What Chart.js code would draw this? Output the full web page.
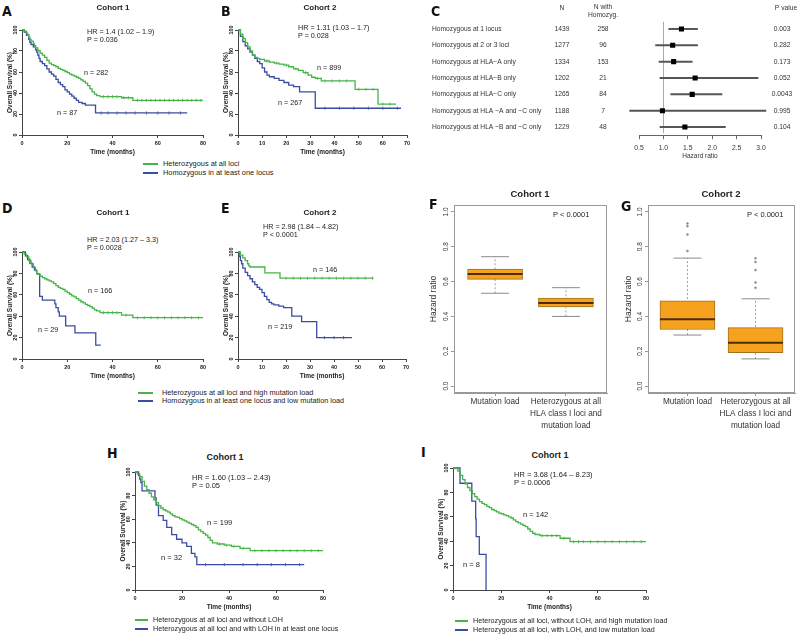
<!DOCTYPE html>
<html>
<head>
<meta charset="utf-8">
<script src="https://cdn.jsdelivr.net/npm/chart.js@4.4.1/dist/chart.umd.min.js"></script>
<style>
  body { margin: 0; background: #fff; }
  #fig { position: relative; width: 800px; height: 638px; overflow: hidden; background: #fff;
         font-family: 'Liberation Sans', Arial, sans-serif; color: #222; }
  #fig canvas { position: absolute; }
  .t { position: absolute; white-space: nowrap; line-height: 1; }
  .lt { font-family: 'Liberation Sans Narrow', 'DejaVu Sans Condensed', sans-serif; font-weight: bold; color: #111; }
  .lg { position: absolute; height: 2px; }
</style>
</head>
<body>
<div id="fig"></div>
<script>
// ---- Kaplan-Meier curves: time (months) / survival (%) / censor times ----
// A: cohort 1, heterozygous vs homozygous
const aHetT = [0,1,2,2.5,3,3.5,4,5,5.5,6,7,8,9,10,11,12,13,14,15,16,17,18,19,20,21,22,23,24,25,26,27,28,29,30,31,32,33,34.5,44,49,80];
const aHetS = [100,99,97,95,93,91,89.5,87,85,83,80.5,78,76,74,71,68.5,67,66,65,63.5,62.5,61.5,60.5,59.5,58,57,56,55,54,52.5,51,49.5,47,44,41,39,37.5,36.5,35.5,33,33];
const aHetCens = [36,38,40,42,45,47,51,53,55,57,59,61,63,65,67,69,71,73,75,77,79];
const aHomT = [0,1,2,3,3.5,4,5,6,6.5,7,7.5,8,9,10,11,12,13,14,15,16,17,18,19,20,21,22,23,24,25,26.5,28,32.5,73];
const aHomS = [100,98,95,91,88,86,84,81,79,76,73,70,68,66,63,60,58,56,53,50,48,46,43,41,39,37,35,33,31,30,28.5,21,21];
const aHomCens = [35,38,42,46,50,55,60,65,70];

// B: cohort 2
const bHetT = [0,1,2,3,4,5,6,7,8,9,11,13,15,17,19,21,23,25,27,29,30.5,32,34.5,48.5,58,65.5];
const bHetS = [100,96,92,88,84,80,76,74,73,72,70.5,69.5,68.5,67.5,66.5,65,63,61.5,59.5,57,55,54,51.5,43.5,29.5,29.5];
const bHetCens = [12,16,20,24,28,33,36,39,42,45,50,53,56,60,63];
const bHomT = [0,1,2,3,4,5,6,7,8,9,10,11,12,13,15,17,19,21,23,25.5,32,67.5];
const bHomS = [100,94,89,85,82,79,76,73,70,68,64,60,57,55.5,54,52,50,47.5,46,41,25.5,25.5];
const bHomCens = [36,42,48,54,60,66];

// D: cohort 1, with mutation load
const dHetT = [0,1,2,3,4,5,6,6.5,7,8,9,10,11,12,13,14,15,16,17,18,19,20,21,22,23,24,25,26,27,28,29,30,31,32,33,34.5,44,49,80];
const dHetS = [100,98,95.5,92,89,85.5,82.5,80,79,77.5,76,75,74,73,72,70.5,68.5,67,66,65,63.5,62,60.5,59,58,56.5,55,53.5,52.5,51,50,49,47.5,46,45,43.3,41,38.6,38.6];
const dHetCens = [36,38,40,42,46,51,54,57,60,63,66,69,72,75,78];
const dHomT = [0,1.5,2.5,3.5,4.5,5.5,6.5,7.8,9,14.5,15,16,16.5,19.3,23.4,32.6,34.8];
const dHomS = [100,96.5,93,89.5,86,83,79.5,58.5,55,51.5,48,44,40,31,24.5,13,13];

// E: cohort 2, with mutation load
const eHetT = [0,1,2,3,4,4.5,5,11.2,17.5,56.5];
const eHetS = [100,97,94.5,92,89,87,86,80.5,75.5,75.5];
const eHetCens = [20,23,26,29,32,35,38,41,44,47,50,53,56];
const eHomT = [0,0.5,1,1.5,2,3,4,5,6,7,8,9,10,11,12,13,14,15,17,19,22.4,26.5,32.8,47.5];
const eHomS = [100,96,92,89,85,81,78,75,72,69.5,67,65,62,58.5,55.5,53,51.5,50.5,49.5,48,40,35,20,20];
const eHomCens = [36,40,44];

// H: cohort 1, LOH
const hHetT = [0,1,2,3,4,5,6,7,8,9,10,11,12,13,14,15,16,17,18,19,20,21,22,23,24,25,26,27,28,29,30,31,32,33,35,38,41,44.7,49,80];
const hHetS = [100,98.5,96,92,88,85,82,79,76.5,74,71.5,69.5,68,67,66,64.5,63,62,61.5,60.5,59.5,58.5,57.5,56.5,55.5,54.5,53,51,49.5,48,46.5,44.5,42,40,39,38,37,35.3,33.3,33.3];
const hHetCens = [36,39,42,46,51,54,57,60,63,66,69,72,75,78];
const hLohT = [0,1.5,2,2.5,3,8.5,9,10,12,13.5,15.6,17.7,20,22,24,25.5,26.3,72];
const hLohS = [100,97,94,91,84,78,72,63,59,53,47,43,40,37,31,28,21.5,21.5];
const hLohCens = [30,38,46,52,58,64,70];

// I: cohort 1, LOH + mutation load
const iHighT = [0,1,2,3,4,5,6,7,8,9,10,11,12,13,14,15,16,17,18,19,20,21,22,23,24,25,26,27,28,29,30,31,32,33,34,36,44.4,48.5,80];
const iHighS = [100,99.5,97.5,94,90.5,87,84,81.5,79,76.5,74.5,72.5,71,70,68.5,67.5,66,65,64,63,62.5,61.5,61,60,59,57.5,56,55,54,53,52,50,48,46.5,45.5,44.5,42.4,39.6,39.6];
const iHighCens = [37,39,41,43,46,50,52,54,57,60,63,66,69,72,75,78];
const iLowT = [0,2.9,7.8,9.4,9.6,10.9,13.7];
const iLowS = [100,87.5,72.9,58.3,43.7,29.2,0];

// ---- C: forest plot ----
const forestRows = ['Homozygous at 1 locus','Homozygous at 2 or 3 loci','Homozygous at HLA\u2212A only','Homozygous at HLA\u2212B only',
  'Homozygous at HLA\u2212C only','Homozygous at HLA \u2212A and \u2212C only','Homozygous at HLA \u2212B and \u2212C only'];
const forestN = [1439,1277,1334,1202,1265,1188,1229];
const forestNHom = [258,96,153,21,84,7,48];
const forestP = ['0.003','0.282','0.173','0.052','0.0043','0.995','0.104'];
const forestHR = [1.37,1.19,1.21,1.65,1.59,0.98,1.44];
const forestLo = [1.11,0.84,0.91,0.93,1.15,0.31,0.93];
const forestHi = [1.70,1.70,1.59,2.94,2.20,3.10,2.27];

// ---- F, G: box plots (whisker low, q1, median, q3, whisker high) ----
const boxGroups = [['Mutation load'], ['Heterozygous at all','HLA class I loci and','mutation load']];
const fStats = [[0.533,0.613,0.644,0.672,0.743],[0.40,0.455,0.477,0.505,0.565]];
const gStats = [[0.293,0.325,0.383,0.49,0.735],[0.156,0.192,0.249,0.336,0.501]];
const gOutliers = [[0.776,0.87,0.918,0.934],[0.564,0.595,0.666,0.713,0.734]];

const GREEN = '#46b446', BLUE = '#3b4da2', ORANGE = '#f6a21e', AXIS = '#444';
const FONT = "'Liberation Sans', Arial, sans-serif";
Chart.defaults.font.family = FONT;
Chart.defaults.color = '#222';

const fig = document.getElementById('fig');

function mk(left, top, w, h) {
  const c = document.createElement('canvas');
  c.width = w; c.height = h;
  c.style.left = left + 'px'; c.style.top = top + 'px';
  c.style.width = w + 'px'; c.style.height = h + 'px';
  fig.appendChild(c);
  return c;
}

function put(text, x, y, size, opts = {}) {
  const d = document.createElement('div');
  d.className = 't' + (opts.cls ? ' ' + opts.cls : '');
  d.textContent = text;
  d.style.fontSize = size + 'px';
  d.style.left = x + 'px';
  d.style.top = (y - size / 2) + 'px';
  if (opts.bold) d.style.fontWeight = 'bold';
  if (opts.center) d.style.transform = 'translateX(-50%)';
  fig.appendChild(d);
}

function legendLine(color, x, y, w) {
  const d = document.createElement('div');
  d.className = 'lg';
  d.style.background = color;
  d.style.left = x + 'px'; d.style.top = (y - 1) + 'px'; d.style.width = w + 'px';
  fig.appendChild(d);
}

function survAt(T, S, t) {
  let s = S[0];
  for (let i = 0; i < T.length; i++) if (T[i] <= t) s = S[i];
  return s;
}

// rotated y tick labels (R style), optional frame and group labels under x ticks
const rLabels = {
  id: 'rLabels',
  afterDraw(chart, args, o) {
    const { ctx, chartArea: a } = chart;
    const ys = chart.scales.y;
    ctx.save();
    if (o.frame) {
      ctx.strokeStyle = o.frame; ctx.lineWidth = 1;
      ctx.strokeRect(Math.round(a.left) + 0.5, Math.round(a.top) + 0.5, Math.round(a.right - a.left) - 1, Math.round(a.bottom - a.top) - 1);
    }
    ctx.font = (o.bold ? 'bold ' : '') + o.size + 'px ' + FONT;
    ctx.fillStyle = o.color || '#222';
    ctx.textAlign = 'center'; ctx.textBaseline = 'middle';
    ys.ticks.forEach(t => {
      ctx.save();
      ctx.translate(a.left - o.dx, ys.getPixelForValue(t.value));
      ctx.rotate(-Math.PI / 2);
      ctx.fillText(o.digits ? t.value.toFixed(o.digits) : String(t.value), 0, 0);
      ctx.restore();
    });
    if (o.groups) {
      const xs = chart.scales.x;
      ctx.font = o.groupSize + 'px ' + FONT;
      o.groups.forEach((lines, i) => {
        const px = xs.getPixelForValue(i + 1);
        lines.forEach((ln, j) => ctx.fillText(ln, px, a.bottom + o.groupTop + j * o.groupLine));
      });
    }
    ctx.restore();
  }
};

function km(box, xmax, xstep, curves) {
  const yW = 24, xH = 22, padT = 6, padR = 10;
  const cv = mk(box.x0 - yW, box.y100 - padT, box.x1 - box.x0 + yW + padR, box.y0 - box.y100 + padT + xH);
  const datasets = [];
  curves.forEach(c => {
    datasets.push({ data: c.t.map((t, i) => ({ x: t, y: c.s[i] })), borderColor: c.color, borderWidth: 1.3,
      stepped: true, pointRadius: 0, fill: false, clip: 3 });
    if (c.cens && c.cens.length) {
      datasets.push({ data: c.cens.map(t => ({ x: t, y: survAt(c.t, c.s, t) })), showLine: false,
        pointStyle: 'line', rotation: 90, pointRadius: 1.6, borderColor: c.color, borderWidth: 0.8, clip: 3 });
    }
  });
  const axisGrid = { drawOnChartArea: false, tickLength: 3, color: AXIS };
  new Chart(cv, {
    type: 'line',
    data: { datasets },
    plugins: [rLabels],
    options: {
      animation: false, responsive: false, events: [],
      layout: { autoPadding: false, padding: { top: padT, right: padR, left: 0, bottom: 0 } },
      plugins: { legend: { display: false }, tooltip: { enabled: false }, rLabels: { size: 5.5, bold: true, dx: 7 } },
      scales: {
        x: { type: 'linear', min: 0, max: xmax, afterFit: s => { s.height = xH; },
          ticks: { stepSize: xstep, autoSkip: false, maxRotation: 0, padding: 2, font: { size: 5.5, weight: 'bold' } },
          grid: axisGrid, border: { color: AXIS },
          title: { display: true, text: 'Time (months)', font: { size: 6.5, weight: 'bold' }, padding: { bottom: 1 } } },
        y: { min: 0, max: 100, afterFit: s => { s.width = yW; },
          ticks: { stepSize: 20, display: false },
          grid: axisGrid, border: { color: AXIS },
          title: { display: true, text: 'Overall Survival (%)', font: { size: 6.5, weight: 'bold' }, padding: { top: 8 } } }
      }
    }
  });
}

function boxChart(left, top, yW, frameR, stats, outs, titlePad) {
  const w = frameR - left + 5, h = 240;
  const cv = mk(left, top, w, h);
  const ds = [];
  stats.forEach((s, i) => ds.push({ type: 'line', data: [{ x: i + 1, y: s[0] }, { x: i + 1, y: s[4] }],
    borderColor: '#8a8a8a', borderWidth: 0.8, borderDash: [2, 2], pointRadius: 0, order: 5 }));
  ds.push({ type: 'bar', data: stats.map((s, i) => ({ x: i + 1, y: [s[1], s[3]] })), backgroundColor: ORANGE,
    borderColor: '#a0701e', borderWidth: 1, borderSkipped: false, barThickness: 55, order: 4 });
  ds.push({ type: 'scatter', data: stats.flatMap((s, i) => [{ x: i + 1, y: s[0] }, { x: i + 1, y: s[4] }]),
    pointStyle: 'line', pointRadius: 14, borderColor: '#8a8a8a', borderWidth: 1, order: 3 });
  ds.push({ type: 'scatter', data: stats.map((s, i) => ({ x: i + 1, y: s[2] })),
    pointStyle: 'line', pointRadius: 27.5, borderColor: '#4a2c05', borderWidth: 2, order: 2 });
  if (outs) ds.push({ type: 'scatter', data: outs.flatMap((o, i) => o.map(v => ({ x: i + 1, y: v }))),
    pointStyle: 'circle', pointRadius: 1, borderColor: '#888', backgroundColor: '#888', borderWidth: 0.5, order: 1 });
  new Chart(cv, {
    type: 'bar',
    data: { datasets: ds },
    plugins: [rLabels],
    options: {
      animation: false, responsive: false, events: [],
      layout: { autoPadding: false, padding: { top: 10, right: 5, left: 0, bottom: 0 } },
      plugins: { legend: { display: false }, tooltip: { enabled: false },
        rLabels: { size: 6.5, dx: 8, digits: 1, frame: '#999', color: '#333',
          groups: boxGroups, groupSize: 8.2, groupTop: 9, groupLine: 12 } },
      scales: {
        x: { type: 'linear', min: 0.42, max: 2.58, offset: false,
          afterFit: s => { s.height = 42; },
          afterBuildTicks: s => { s.ticks = [{ value: 1 }, { value: 2 }]; },
          ticks: { display: false },
          grid: { drawOnChartArea: false, tickLength: 3, color: '#999', offset: false }, border: { color: '#999' } },
        y: { min: -0.04, max: 1.04, afterFit: s => { s.width = yW; },
          ticks: { stepSize: 0.2, includeBounds: false, display: false },
          grid: { drawOnChartArea: false, tickLength: 3, color: '#999' }, border: { color: '#999' },
          title: { display: true, text: 'Hazard ratio', color: '#333', font: { size: 8.5 }, padding: { top: titlePad } } }
      }
    }
  });
}

// forest table text and reference line
const forestTable = {
  id: 'forestTable',
  beforeDatasetsDraw(chart) {
    const { ctx, chartArea: a, scales: { x } } = chart;
    const px = Math.round(x.getPixelForValue(1)) + 0.5;
    ctx.save();
    ctx.strokeStyle = '#aaa'; ctx.lineWidth = 1;
    ctx.beginPath(); ctx.moveTo(px, a.top + 1); ctx.lineTo(px, a.bottom - 2); ctx.stroke();
    ctx.restore();
  },
  afterDraw(chart) {
    const { ctx, scales: { y } } = chart;
    ctx.save();
    ctx.font = '6.7px ' + FONT; ctx.fillStyle = '#333'; ctx.textBaseline = 'middle';
    forestRows.forEach((lab, i) => {
      const py = y.getPixelForValue(i);
      ctx.textAlign = 'left'; ctx.fillText(lab, 7, py);
      ctx.textAlign = 'center';
      ctx.fillText(String(forestN[i]), 137, py);
      ctx.fillText(String(forestNHom[i]), 178, py);
      ctx.fillText(forestP[i], 357, py);
    });
    ctx.textAlign = 'center';
    ctx.fillText('N', 137, 8);
    ctx.fillText('N with', 178, 7.5);
    ctx.fillText('Homozyg.', 178, 15);
    ctx.fillText('P value', 361, 8);
    ctx.restore();
  }
};

function forest() {
  const cv = mk(425, 0, 375, 165);
  new Chart(cv, {
    type: 'bar',
    data: {
      labels: forestRows,
      datasets: [
        { type: 'line', indexAxis: 'y', data: forestHR, showLine: false, pointStyle: 'rect', pointRadius: 3.6,
          backgroundColor: '#000', borderColor: '#000', borderWidth: 0, order: 0 },
        { data: forestLo.map((v, i) => [v, forestHi[i]]), backgroundColor: '#555', barThickness: 1.3,
          borderWidth: 0, clip: false, order: 1 }
      ]
    },
    plugins: [forestTable],
    options: {
      indexAxis: 'y', animation: false, responsive: false, events: [],
      layout: { autoPadding: false, padding: { left: 214, right: 39, top: 20.8, bottom: 4.8 } },
      plugins: { legend: { display: false }, tooltip: { enabled: false } },
      scales: {
        x: { type: 'linear', min: 0.5, max: 3, afterFit: s => { s.height = 25; },
          ticks: { stepSize: 0.5, autoSkip: false, maxRotation: 0, padding: 5, color: '#333', font: { size: 6.8 } },
          grid: { drawOnChartArea: false, tickLength: 4, color: '#666' }, border: { color: '#666' },
          title: { display: true, text: 'Hazard ratio', color: '#333', font: { size: 6.5 }, padding: { bottom: 0.3 } } },
        y: { display: false }
      }
    }
  });
}

// ---- draw ----
km({ x0: 22, x1: 203, y100: 30, y0: 135 }, 80, 20, [
  { t: aHetT, s: aHetS, cens: aHetCens, color: GREEN }, { t: aHomT, s: aHomS, cens: aHomCens, color: BLUE }]);
km({ x0: 238, x1: 407, y100: 30, y0: 135 }, 70, 10, [
  { t: bHetT, s: bHetS, cens: bHetCens, color: GREEN }, { t: bHomT, s: bHomS, cens: bHomCens, color: BLUE }]);
km({ x0: 22, x1: 203, y100: 252, y0: 359 }, 80, 20, [
  { t: dHetT, s: dHetS, cens: dHetCens, color: GREEN }, { t: dHomT, s: dHomS, color: BLUE }]);
km({ x0: 238, x1: 406, y100: 252, y0: 359 }, 70, 10, [
  { t: eHetT, s: eHetS, cens: eHetCens, color: GREEN }, { t: eHomT, s: eHomS, cens: eHomCens, color: BLUE }]);
km({ x0: 135, x1: 323, y100: 472, y0: 590 }, 80, 20, [
  { t: hHetT, s: hHetS, cens: hHetCens, color: GREEN }, { t: hLohT, s: hLohS, cens: hLohCens, color: BLUE }]);
km({ x0: 453, x1: 646, y100: 468, y0: 590 }, 80, 20, [
  { t: iHighT, s: iHighS, cens: iHighCens, color: GREEN }, { t: iLowT, s: iLowS, color: BLUE }]);
forest();
boxChart(420, 195, 34, 607, fStats, null, 8.2);
boxChart(616, 195, 32, 795, gStats, gOutliers, 7.2);

// panel letters
[['A', 2, 11], ['B', 221, 11], ['C', 431, 11], ['D', 2, 208], ['E', 221, 208], ['F', 429, 204],
 ['G', 621, 206], ['H', 107, 453], ['I', 421, 452]].forEach(([l, x, y]) => put(l, x, y, 14, { cls: 'lt' }));

// titles
put('Cohort 1', 113, 8, 8, { bold: true, center: true });
put('Cohort 2', 320, 8, 8, { bold: true, center: true });
put('Cohort 1', 113, 213, 8, { bold: true, center: true });
put('Cohort 2', 320, 213, 8, { bold: true, center: true });
put('Cohort 1', 530, 194, 9.5, { bold: true, center: true });
put('Cohort 2', 721, 194, 9.5, { bold: true, center: true });
put('Cohort 1', 225, 457, 9, { bold: true, center: true });
put('Cohort 1', 550, 455, 9, { bold: true, center: true });

// statistics
put('HR = 1.4 (1.02 \u2013 1.9)', 87, 32, 7.2); put('P = 0.036', 87, 39.5, 7.2);
put('HR = 1.31 (1.03 \u2013 1.7)', 298, 28, 7.2); put('P = 0.028', 298, 36, 7.2);
put('HR = 2.03 (1.27 \u2013 3.3)', 87, 240, 7.2); put('P = 0.0028', 87, 248, 7.2);
put('HR = 2.98 (1.84 \u2013 4.82)', 263, 227, 7.2); put('P < 0.0001', 263, 235, 7.2);
put('HR = 1.60 (1.03 \u2013 2.43)', 192, 478, 7.5); put('P = 0.05', 192, 486, 7.5);
put('HR = 3.68 (1.64 \u2013 8.23)', 514, 475, 7.5); put('P = 0.0006', 514, 483, 7.5);
put('P < 0.0001', 553, 215, 7.5); put('P < 0.0001', 747, 215, 7.5);

// group sizes
put('n = 282', 84, 73, 7.2); put('n = 87', 57, 113, 7.2);
put('n = 899', 317, 68, 7.2); put('n = 267', 278, 103, 7.2);
put('n = 166', 88, 291, 7.2); put('n = 29', 38, 330, 7.2);
put('n = 146', 313, 270, 7.2); put('n = 219', 268, 327, 7.2);
put('n = 199', 207, 523, 7.5); put('n = 32', 161, 558, 7.5);
put('n = 142', 523, 515, 7.5); put('n = 8', 463, 565, 7.5);

// legends
legendLine(GREEN, 143, 164, 15); put('Heterozygous at all loci', 163, 164, 7.4);
legendLine(BLUE, 143, 173, 15); put('Homozygous in at least one locus', 163, 173, 7.4);
legendLine(GREEN, 138, 393, 15); put('Heterozygous at all loci and high mutation load', 162, 393, 7.3);
legendLine(BLUE, 138, 401, 15); put('Homozygous in at least one locus and low mutation load', 162, 401, 7.3);
legendLine(GREEN, 135, 620, 13); put('Heterozygous at all loci and without LOH', 153, 620, 7.2);
legendLine(BLUE, 135, 629, 13); put('Heterozygous at all loci and with LOH in at least one locus', 153, 629, 7.2);
legendLine(GREEN, 455, 621, 13); put('Heterozygous at all loci, without LOH, and high mutation load', 473, 621, 7.2);
legendLine(BLUE, 455, 630, 13); put('Heterozygous at all loci, with LOH, and low mutation load', 473, 630, 7.2);
</script>
</body>
</html>
